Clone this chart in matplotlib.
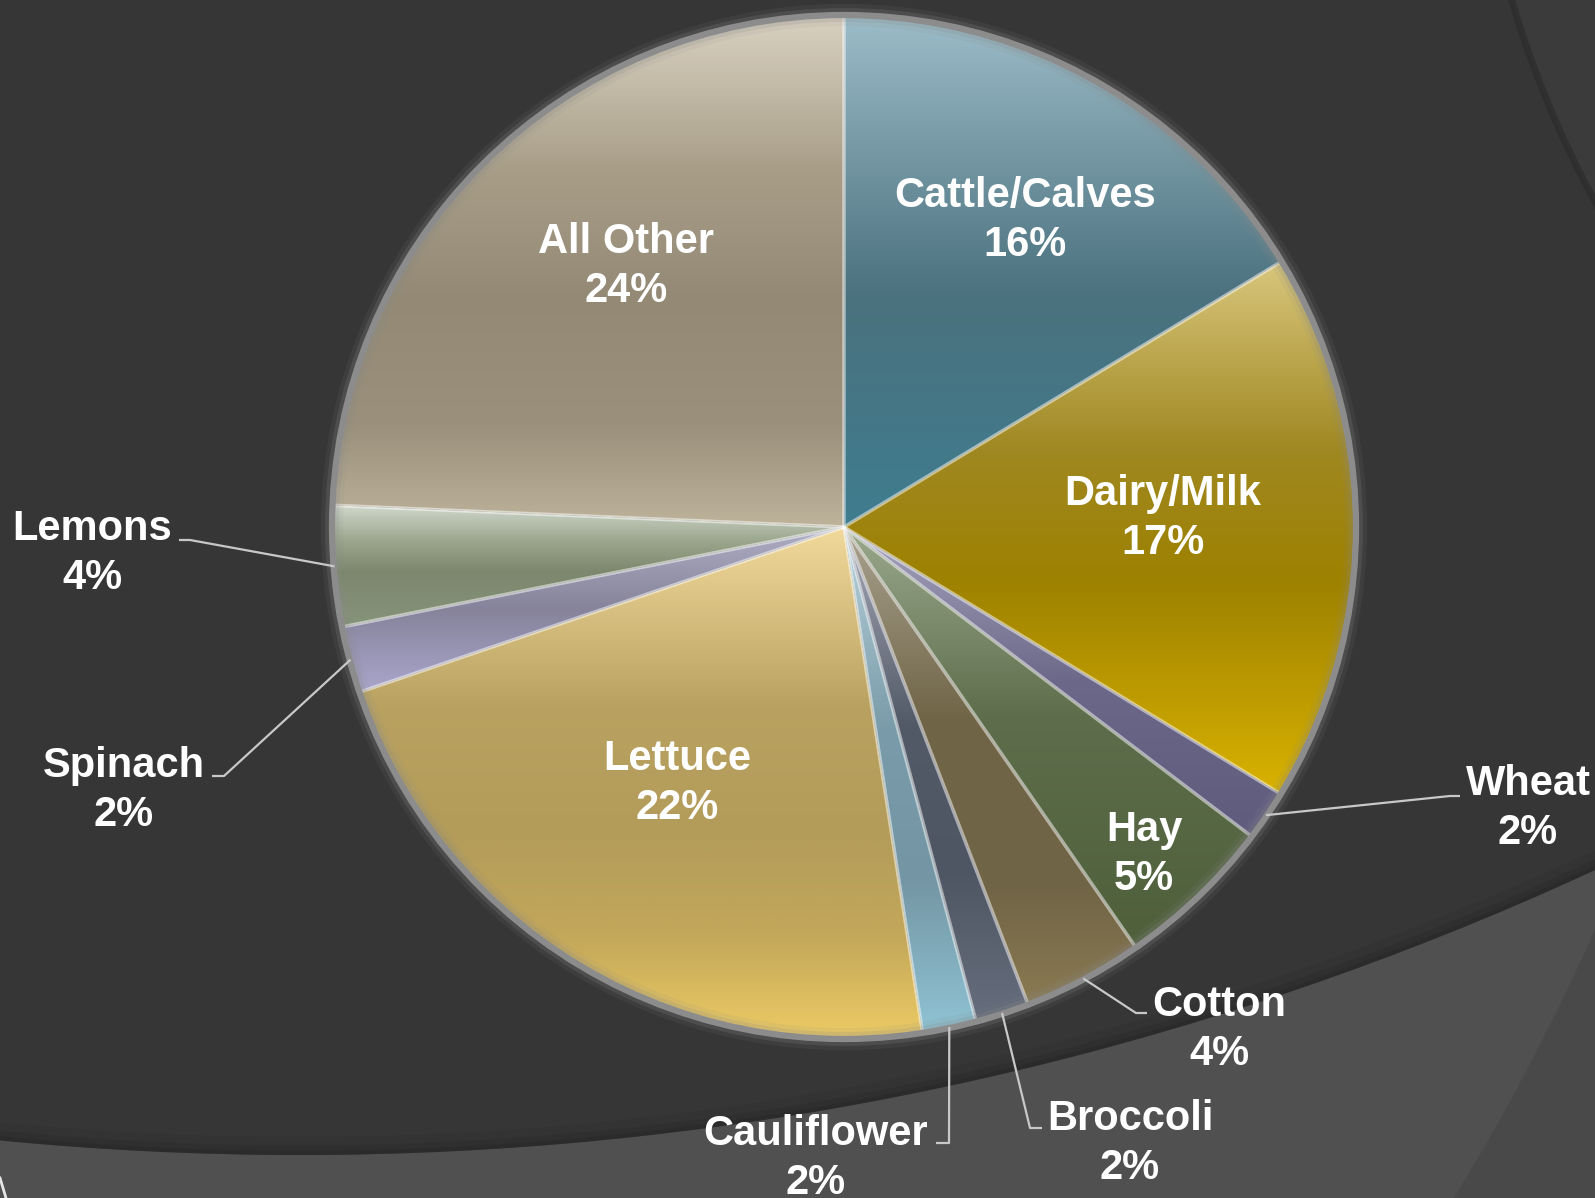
import numpy as np
import matplotlib
matplotlib.use("Agg")
import matplotlib.pyplot as plt
from matplotlib.colors import to_rgb
from matplotlib.patches import Circle, Rectangle

# ---------------- data ----------------
categories = ["Cattle/Calves", "Dairy/Milk", "Wheat", "Hay", "Cotton", "Broccoli",
              "Cauliflower", "Lettuce", "Spinach", "Lemons", "All Other"]
values = [16.3, 17.4, 1.6, 5.0, 3.8, 1.7, 1.7, 22.2, 2.1, 3.8, 24.3]

# ---------------- styles ----------------
gradients = {
    "Cattle/Calves": [(0, "#9cbcc8"), (0.55, "#4b717e"), (1, "#3e7d8f")],
    "Dairy/Milk":    [(0, "#d8c67c"), (0.35, "#a08822"), (0.6, "#9d8100"), (1, "#d9b200")],
    "Wheat":         [(0, "#a6a5bd"), (0.5, "#6c6889"), (1, "#5f5b7d")],
    "Hay":           [(0, "#9aa88c"), (0.45, "#5e6e4c"), (1, "#4e5f3a")],
    "Cotton":        [(0, "#aaa290"), (0.4, "#706547"), (0.75, "#706446"), (1, "#8a7a52")],
    "Broccoli":      [(0, "#a8aaba"), (0.4, "#525a67"), (0.7, "#4f5663"), (1, "#666d7c")],
    "Cauliflower":   [(0, "#b8d2dc"), (0.4, "#7a9ba9"), (0.7, "#7496a4"), (1, "#8fc3d4")],
    "Lettuce":       [(0, "#f1d99c"), (0.35, "#b9a261"), (0.6, "#b39c5a"), (0.8, "#c3a75a"), (1, "#eccb64")],
    "Spinach":       [(0, "#aeaec4"), (0.5, "#86839b"), (1, "#aaa6cc")],
    "Lemons":        [(0, "#d0d8cc"), (0.3, "#9aa58c"), (0.55, "#7c876e"), (1, "#86947a")],
    "All Other":     [(0, "#d9d1c1"), (0.3, "#a89e88"), (0.55, "#938975"), (0.8, "#9a907b"), (1, "#bdb39b")],
}

# label positions (image pixel coords: x center, y center of first line)
label_pos = {
    "Cattle/Calves": (1025, 193), "Dairy/Milk": (1163, 491), "All Other": (626, 239),
    "Lettuce": (677, 756), "Hay": (1144, 827), "Wheat": (1528, 781),
    "Cotton": (1219, 1002), "Broccoli": (1130, 1116), "Cauliflower": (816, 1131),
    "Spinach": (124, 763), "Lemons": (92, 526),
}
# leader lines: elbow, end (image coords)
leaders = {
    "Wheat": [(1450, 796), (1460, 796)],
    "Cotton": [(1136, 1013), (1147, 1013)],
    "Broccoli": [(1030, 1128), (1042, 1128)],
    "Cauliflower": [(949, 1143), (936, 1143)],
    "Spinach": [(224, 776), (212, 776)],
    "Lemons": [(190, 540), (179, 540)],
}

W, H = 1595, 1198
CX, CY, R = 844, 527, 511


def Y(y):
    return H - y


fig = plt.figure(figsize=(W / 100, H / 100), dpi=100)
fig.patch.set_facecolor("#494949")
ax = fig.add_axes([0, 0, 1, 1])

# ---------------- background decoration ----------------
ax.add_patch(Rectangle((0, 0), W, H, facecolor="#494949", edgecolor="none", zorder=0))
ax.add_patch(Circle((-500, Y(0)), 2292, facecolor="#505050", edgecolor="none", zorder=0.1))
dark = Circle((300, Y(-1930)), 3085, facecolor="#363636", edgecolor="none", zorder=0.2)
ax.add_patch(dark)
for lw, a in [(26, 0.12), (14, 0.18), (6, 0.3)]:
    sh = Circle((300, Y(-1930)), 3085, fill=False, edgecolor="#222222", lw=lw, alpha=a, zorder=0.3)
    ax.add_patch(sh)
    sh.set_clip_path(dark)
ur = Circle((2500, Y(-290)), 1030, facecolor="#3b3b3b", edgecolor="none", zorder=0.4)
ax.add_patch(ur)
ax.add_patch(Circle((2500, Y(-290)), 1030, fill=False, edgecolor="#2a2a2a", lw=5, alpha=0.6, zorder=0.45))
ax.plot([0, 6], [Y(1178), Y(1198)], color="#e6e6e6", lw=2, zorder=0.5)

# ---------------- pie ----------------
wedges, _ = ax.pie(values, center=(CX, Y(CY)), radius=R, startangle=90,
                   counterclock=False, wedgeprops=dict(linewidth=0))

for w, name in zip(wedges, categories):
    ext = w.get_path().get_extents()
    stops = gradients[name]
    pos = [s[0] for s in stops]
    cols = np.array([to_rgb(s[1]) for s in stops])
    t = np.linspace(0, 1, 256)
    grad = np.stack([np.interp(t, pos, cols[:, k]) for k in range(3)], axis=-1)
    img = np.repeat(grad[:, None, :], 2, axis=1)
    im = ax.imshow(img, extent=(ext.x0, ext.x1, ext.y0, ext.y1), origin="upper",
                   aspect="auto", interpolation="bilinear", zorder=2)
    im.set_clip_path(w)
    w.set_facecolor("none")
    w.set_edgecolor((1, 1, 1, 0.3))
    w.set_linewidth(2.5)
    w.set_zorder(3)

# rim
for lw, a in [(16, 0.10), (10, 0.2)]:
    ax.add_patch(Circle((CX, Y(CY)), R + 1, fill=False, edgecolor="#8a8a8a", lw=lw, alpha=a, zorder=4))
ax.add_patch(Circle((CX, Y(CY)), R + 1, fill=False, edgecolor="#8c8c8c", lw=4.5, zorder=4.1))

# ---------------- labels ----------------
total = sum(values)
font = dict(family=["Liberation Sans", "DejaVu Sans"], weight="bold", size=30, color="white")
for w, name, v in zip(wedges, categories, values):
    x, yc = label_pos[name]
    base = yc + 14
    ax.text(x, Y(base), name, ha="center", va="baseline", zorder=6, **font)
    ax.text(x, Y(base + 49), f"{round(v / total * 100)}%", ha="center", va="baseline", zorder=6, **font)
    if name in leaders:
        th = np.deg2rad((w.theta1 + w.theta2) / 2)
        ax_pt = (CX + R * np.cos(th), Y(CY) + R * np.sin(th))
        pts = [ax_pt] + [(px, Y(py)) for px, py in leaders[name]]
        ax.plot([p[0] for p in pts], [p[1] for p in pts], color="#c8c8c8", lw=1.6,
                zorder=5, solid_capstyle="butt")

ax.set_xlim(0, W)
ax.set_ylim(0, H)
ax.set_aspect("auto")
ax.axis("off")

fig.savefig("out.png", dpi=100, facecolor=fig.get_facecolor())
